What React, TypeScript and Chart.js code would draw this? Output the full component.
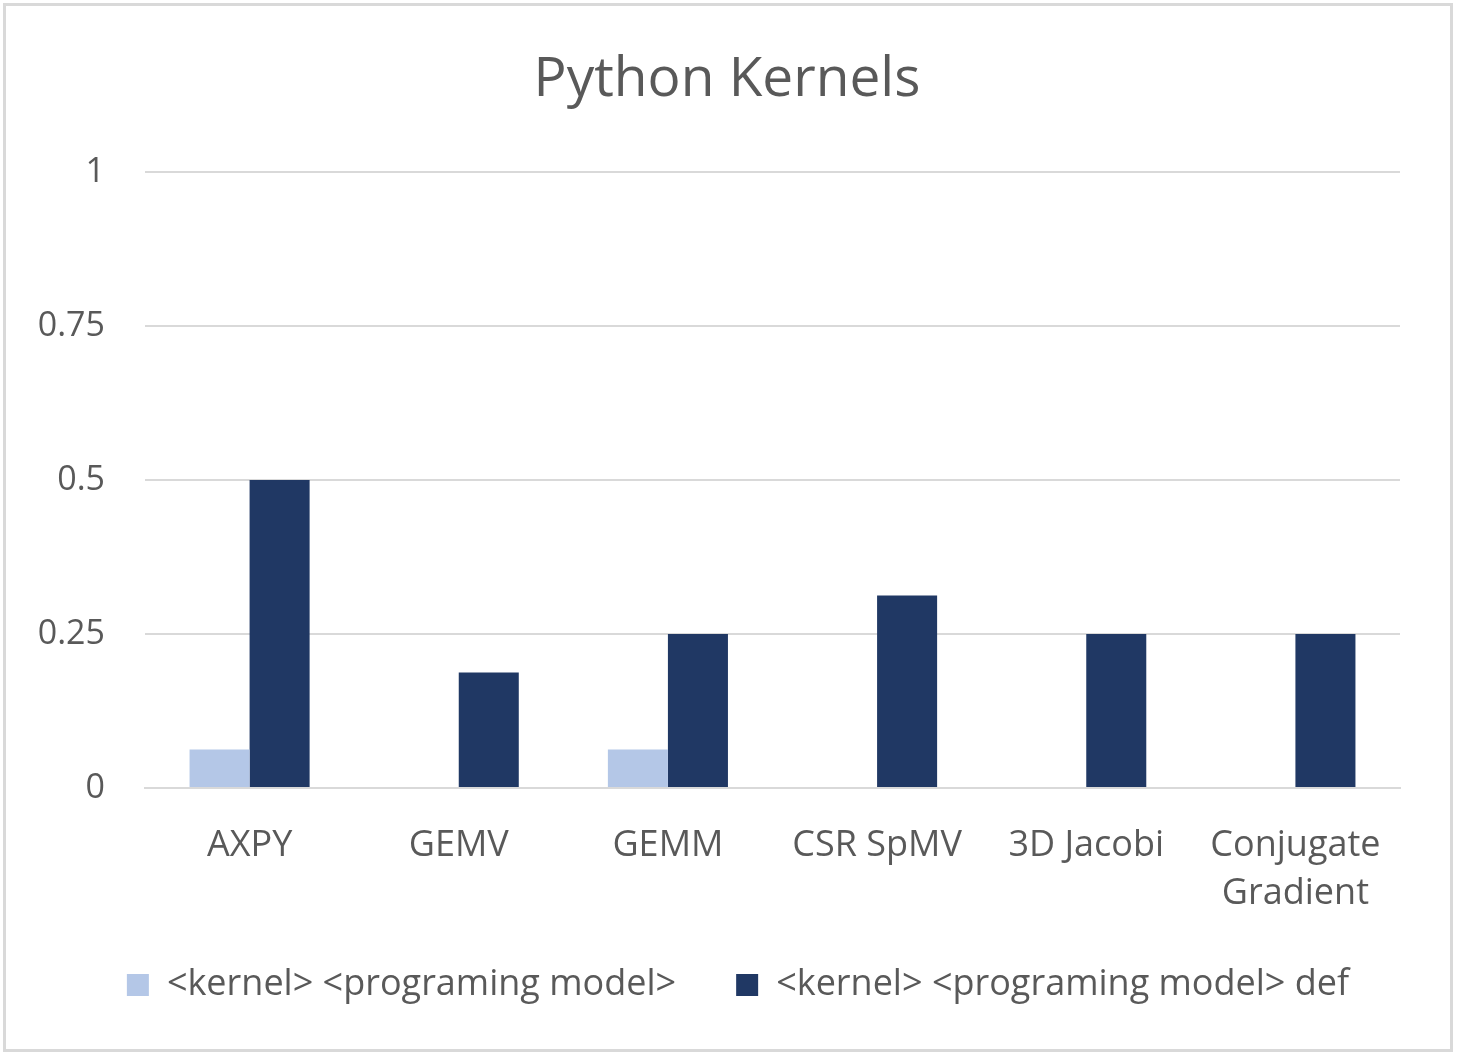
import { useRef, useEffect } from 'react';
import { Chart } from 'chart.js/auto';

const kernels = ['AXPY', 'GEMV', 'GEMM', 'CSR SpMV', '3D Jacobi', ['Conjugate', 'Gradient']];
const baseValues = [0.0625, 0, 0.0625, 0, 0, 0];
const defValues = [0.5, 0.1875, 0.25, 0.3125, 0.25, 0.25];
const seriesNames = ['<kernel> <programing model>', '<kernel> <programing model> def'];
const yTicks = [0, 0.25, 0.5, 0.75, 1];
const yTickLabels = ['0', '0.25', '0.5', '0.75', '1'];

const FONT = '"Open Sans", sans-serif';
const TEXT = '#595959';

// nudge title and legend sideways so they sit where the original has them
const nudge = {
    id: 'nudge',
    afterLayout(chart) {
        const t = chart.titleBlock;
        if (t) { t.left += 27; t.right += 27; }
        const l = chart.legend;
        if (l) { l.left += 38; l.right += 38; }
    }
};

const App = () => {
    const canvasRef = useRef(null);
    const chartRef = useRef(null);

    useEffect(() => {
        if (!canvasRef.current) return;
        if (chartRef.current) chartRef.current.destroy();

        chartRef.current = new Chart(canvasRef.current, {
            type: 'bar',
            data: {
                labels: kernels,
                datasets: [
                    { label: seriesNames[0], data: baseValues, backgroundColor: '#b4c7e7' },
                    { label: seriesNames[1], data: defValues, backgroundColor: '#203864' }
                ]
            },
            plugins: [nudge],
            options: {
                animation: false,
                responsive: false,
                maintainAspectRatio: false,
                layout: { padding: { left: 0, right: 57, top: 0, bottom: 45 } },
                datasets: { bar: { categoryPercentage: 0.574, barPercentage: 1.0 } },
                plugins: {
                    tooltip: { enabled: false },
                    title: {
                        display: true,
                        text: 'Python Kernels',
                        color: TEXT,
                        font: { family: FONT, size: 55, weight: 'normal', lineHeight: 1.2 },
                        padding: { top: 47, bottom: 59 }
                    },
                    legend: {
                        position: 'bottom',
                        labels: {
                            color: TEXT,
                            font: { family: FONT, size: 36 },
                            boxWidth: 22,
                            boxHeight: 22,
                            padding: 60
                        }
                    }
                },
                scales: {
                    y: {
                        min: 0,
                        max: 1,
                        afterBuildTicks: (s) => { s.ticks = yTicks.map(v => ({ value: v })); },
                        ticks: {
                            color: TEXT, padding: 40, font: { family: FONT, size: 34 },
                            callback: (v) => yTickLabels[yTicks.indexOf(v)]
                        },
                        grid: { color: '#d9d9d9', lineWidth: 2, drawTicks: false },
                        border: { display: false },
                        afterFit: (s) => { s.width = 145; }
                    },
                    x: {
                        ticks: { color: TEXT, padding: 34, maxRotation: 0, autoSkip: false, font: { family: FONT, size: 36, lineHeight: 1.33 } },
                        grid: { display: false, drawTicks: false },
                        border: { color: '#d9d9d9', width: 2 },
                        afterFit: (s) => { s.height = 119; }
                    }
                }
            }
        });

        return () => { if (chartRef.current) chartRef.current.destroy(); };
    }, []);

    return (
        <div style={{ position: 'fixed', left: 0, top: 0, width: 1457, height: 1058, background: '#fff' }}>
            <div style={{ position: 'absolute', left: 3, top: 3, width: 1444, height: 1043, border: '3px solid #d9d9d9' }} />
            <canvas ref={canvasRef} width={1457} height={1058} style={{ position: 'absolute', left: 0, top: 0 }}></canvas>
        </div>
    );
};

export default App;
